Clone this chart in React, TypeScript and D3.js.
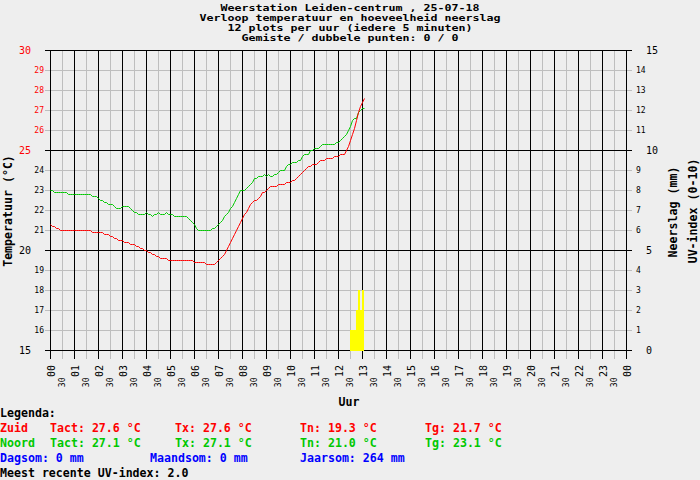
import { useEffect, useRef } from "react";
import * as d3 from "d3";

// 5-minute samples starting at 00:00 (12 per hour)
const zuidTemp = [
  21.3, 21.2, 21.2, 21.1, 21.1, 21.0, 21.0, 21.0, 21.0, 21.0, 21.0, 21.0,
  21.0, 21.0, 21.0, 21.0, 21.0, 21.0, 21.0, 21.0, 21.0, 20.9, 20.9, 20.9,
  20.9, 20.9, 20.9, 20.8, 20.8, 20.8, 20.7, 20.7, 20.6, 20.6, 20.5, 20.5,
  20.5, 20.4, 20.4, 20.4, 20.3, 20.3, 20.3, 20.2, 20.2, 20.1, 20.1, 20.0,
  20.0, 19.9, 19.9, 19.8, 19.8, 19.7, 19.7, 19.6, 19.6, 19.6, 19.6, 19.5,
  19.5, 19.5, 19.5, 19.5, 19.5, 19.5, 19.5, 19.5, 19.5, 19.5, 19.5, 19.5,
  19.4, 19.4, 19.4, 19.4, 19.4, 19.4, 19.3, 19.3, 19.3, 19.3, 19.3, 19.4,
  19.5, 19.6, 19.7, 19.8, 20.0, 20.2, 20.4, 20.6, 20.8, 21.0, 21.2, 21.4,
  21.6, 21.8, 21.9, 22.1, 22.3, 22.4, 22.5, 22.5, 22.6, 22.7, 22.9, 22.9,
  23.0, 23.1, 23.2, 23.2, 23.2, 23.2, 23.3, 23.3, 23.3, 23.3, 23.4, 23.4,
  23.4, 23.5, 23.5, 23.6, 23.7, 23.8, 23.9, 24.0, 24.1, 24.2, 24.2, 24.3,
  24.3, 24.3, 24.4, 24.5, 24.5, 24.5, 24.6, 24.6, 24.6, 24.6, 24.7, 24.7,
  24.7, 24.8, 24.8, 24.8, 25.0, 25.2, 25.5, 25.8, 26.1, 26.5, 26.9, 27.2,
  27.4, 27.6,
];

const noordTemp = [
  23.0, 23.0, 22.9, 22.9, 22.9, 22.9, 22.9, 22.9, 22.9, 22.8, 22.8, 22.8,
  22.8, 22.8, 22.8, 22.8, 22.8, 22.8, 22.8, 22.8, 22.8, 22.7, 22.7, 22.7,
  22.6, 22.5, 22.5, 22.4, 22.4, 22.3, 22.3, 22.3, 22.2, 22.1, 22.1, 22.1,
  22.2, 22.2, 22.2, 22.2, 22.1, 22.0, 21.9, 21.9, 21.8, 21.8, 21.8, 21.8,
  21.9, 21.8, 21.8, 21.7, 21.8, 21.8, 21.9, 21.8, 21.8, 21.8, 21.9, 21.8,
  21.8, 21.8, 21.7, 21.7, 21.7, 21.7, 21.7, 21.7, 21.7, 21.6, 21.5, 21.4,
  21.3, 21.1, 21.0, 21.0, 21.0, 21.0, 21.0, 21.0, 21.0, 21.1, 21.1, 21.2,
  21.3, 21.4, 21.5, 21.7, 21.8, 21.9, 22.1, 22.2, 22.4, 22.6, 22.8, 23.0,
  23.0, 23.0, 23.1, 23.2, 23.3, 23.4, 23.6, 23.6, 23.7, 23.7, 23.7, 23.8,
  23.7, 23.8, 23.7, 23.7, 23.8, 23.8, 23.9, 24.0, 24.0, 24.0, 24.2, 24.3,
  24.3, 24.4, 24.4, 24.4, 24.5, 24.5, 24.7, 24.8, 24.8, 24.8, 25.0, 25.0,
  25.1, 25.1, 25.1, 25.2, 25.3, 25.3, 25.3, 25.3, 25.3, 25.3, 25.3, 25.4,
  25.4, 25.5, 25.6, 25.7, 25.8, 26.0, 26.2, 26.5, 26.6, 26.6, 26.9, 27.0,
  27.1, 27.1,
];

// UV index per 5 minutes, first sample at 12:30
const uvStartSample = 150;
const uvValues = [1, 1, 1, 2, 3, 2, 3];

const hourLabels = [
  "00", "01", "02", "03", "04", "05", "06", "07", "08", "09", "10", "11",
  "12", "13", "14", "15", "16", "17", "18", "19", "20", "21", "22", "23", "00",
];
const halfHourLabel = "30";
const tempTicks = [15, 16, 17, 18, 19, 20, 21, 22, 23, 24, 25, 26, 27, 28, 29, 30];
const rainTicks = [0, 1, 2, 3, 4, 5, 6, 7, 8, 9, 10, 11, 12, 13, 14, 15];

const titleLines = [
  "Weerstation Leiden-centrum , 25-07-18",
  "Verloop temperatuur en hoeveelheid neerslag",
  "12 plots per uur (iedere 5 minuten)",
  "Gemiste / dubbele punten: 0 / 0",
];
const legendZuid = ["Zuid", "Tact: 27.6 °C", "Tx: 27.6 °C", "Tn: 19.3 °C", "Tg: 21.7 °C"];
const legendNoord = ["Noord", "Tact: 27.1 °C", "Tx: 27.1 °C", "Tn: 21.0 °C", "Tg: 23.1 °C"];
const legendRain = ["Dagsom: 0 mm", "Maandsom: 0 mm", "Jaarsom: 264 mm"];
const legendUv = "Meest recente UV-index: 2.0";

const W = 700;
const H = 480;
const FONT = "'DejaVu Sans Mono', monospace";
const RED = "#ff0000";
const GREEN = "#00c800";
const BLUE = "#0000ff";
const GREY = "#bebebe";

export default function App() {
  const svgRef = useRef<SVGSVGElement>(null);

  useEffect(() => {
    if (!svgRef.current) return;
    document.body.style.margin = "0";

    const svg = d3.select(svgRef.current);
    svg.selectAll("*").remove();

    const x = d3.scaleLinear().domain([0, 24]).range([50.5, 626.5]);
    const y = d3.scaleLinear().domain([15, 30]).range([350.5, 50.5]);
    const yR = d3.scaleLinear().domain([0, 15]).range([350.5, 50.5]);
    const xs = (i: number) => x(i / 12);

    svg.append("rect").attr("width", W).attr("height", H).attr("fill", "#eeeeee");

    // title: small font stretched to the 7px-wide bitmap glyphs
    svg
      .append("g")
      .selectAll("text")
      .data(titleLines)
      .enter()
      .append("text")
      .attr("x", 350)
      .attr("y", (_, i) => 10.5 + i * 10.3)
      .attr("text-anchor", "middle")
      .attr("font-family", FONT)
      .attr("font-weight", "bold")
      .attr("font-size", 8.8)
      .attr("textLength", (d) => d.length * 7)
      .attr("lengthAdjust", "spacingAndGlyphs")
      .text((d) => d);

    // grid
    const grid = svg.append("g").attr("shape-rendering", "crispEdges");
    const halfHours = d3.range(0, 24.5, 0.5);
    const yTop = y(30);
    const yBottom = y(15) + 8;
    const addGrid = (major: boolean) => {
      const color = major ? "#000" : GREY;
      grid
        .selectAll(null)
        .data(tempTicks.filter((v) => (v % 5 === 0) === major))
        .enter()
        .append("line")
        .attr("x1", 45)
        .attr("x2", 632)
        .attr("y1", (d) => y(d))
        .attr("y2", (d) => y(d))
        .attr("stroke", color);
      grid
        .selectAll(null)
        .data(halfHours.filter((h) => (h % 1 === 0) === major))
        .enter()
        .append("line")
        .attr("x1", (d) => x(d))
        .attr("x2", (d) => x(d))
        .attr("y1", yTop)
        .attr("y2", yBottom)
        .attr("stroke", color);
    };
    addGrid(false);
    addGrid(true);

    // UV bars
    svg
      .append("g")
      .attr("shape-rendering", "crispEdges")
      .selectAll("rect")
      .data(uvValues)
      .enter()
      .append("rect")
      .attr("x", (_, i) => xs(uvStartSample + i) - 0.5)
      .attr("width", xs(1) - xs(0))
      .attr("y", (d) => yR(d) - 0.5)
      .attr("height", (d) => yR(0) - yR(d) + 1)
      .attr("fill", "#ffff00");

    // temperature lines
    const line = d3
      .line<number>()
      .x((_, i) => xs(i))
      .y((d) => y(d));
    svg
      .append("path")
      .datum(noordTemp)
      .attr("fill", "none")
      .attr("stroke", GREEN)
      .attr("stroke-width", 1)
      .attr("d", line);
    svg
      .append("path")
      .datum(zuidTemp)
      .attr("fill", "none")
      .attr("stroke", RED)
      .attr("stroke-width", 1)
      .attr("d", line);

    // left axis labels
    svg
      .append("g")
      .selectAll("text")
      .data(tempTicks)
      .enter()
      .append("text")
      .attr("x", (d) => (d % 5 === 0 ? 31 : 44))
      .attr("y", (d) => y(d) + (d % 5 === 0 ? 3.6 : 2.9))
      .attr("text-anchor", "end")
      .attr("font-family", FONT)
      .attr("font-size", (d) => (d % 5 === 0 ? 10 : 8))
      .attr("fill", (d) => (d >= 25 ? RED : "#000"))
      .text((d) => d);

    // right axis labels
    svg
      .append("g")
      .selectAll("text")
      .data(rainTicks)
      .enter()
      .append("text")
      .attr("x", (d) => (d % 5 === 0 ? 646 : 636))
      .attr("y", (d) => yR(d) + (d % 5 === 0 ? 3.6 : 2.9))
      .attr("font-family", FONT)
      .attr("font-size", (d) => (d % 5 === 0 ? 10 : 8))
      .text((d) => d);

    // hour labels
    svg
      .append("g")
      .selectAll("text")
      .data(hourLabels)
      .enter()
      .append("text")
      .attr("transform", (_, i) => `translate(${x(i) + 1},365) rotate(-90)`)
      .attr("dy", "0.36em")
      .attr("text-anchor", "end")
      .attr("font-family", FONT)
      .attr("font-size", 10)
      .text((d) => d);
    svg
      .append("g")
      .selectAll("text")
      .data(d3.range(24))
      .enter()
      .append("text")
      .attr("transform", (d) => `translate(${x(d + 0.5)},377.5) rotate(-90)`)
      .attr("dy", "0.36em")
      .attr("text-anchor", "end")
      .attr("font-family", FONT)
      .attr("font-size", 8)
      .text(halfHourLabel);

    // axis titles
    const bold = (sel: d3.Selection<SVGTextElement, unknown, null, undefined>) =>
      sel.attr("font-family", FONT).attr("font-weight", "bold").attr("font-size", 11.6);
    svg
      .append("text")
      .attr("transform", "translate(11.5,211) rotate(-90)")
      .attr("text-anchor", "middle")
      .call(bold)
      .text("Temperatuur (°C)");
    svg
      .append("text")
      .attr("transform", "translate(677,212) rotate(-90)")
      .attr("text-anchor", "middle")
      .call(bold)
      .text("Neerslag (mm)");
    svg
      .append("text")
      .attr("transform", "translate(697,211) rotate(-90)")
      .attr("text-anchor", "middle")
      .call(bold)
      .text("UV-index (0-10)");
    svg
      .append("text")
      .attr("x", 349)
      .attr("y", 406)
      .attr("text-anchor", "middle")
      .call(bold)
      .text("Uur");

    // legend
    const legend = svg.append("g");
    const tempCols = [0, 50, 175, 300, 425];
    const rainCols = [0, 150, 300];
    legend.append("text").attr("x", 0).attr("y", 416.5).call(bold).text("Legenda:");
    legendZuid.forEach((s, i) =>
      legend.append("text").attr("x", tempCols[i]).attr("y", 431.5).attr("fill", RED).call(bold).text(s)
    );
    legendNoord.forEach((s, i) =>
      legend.append("text").attr("x", tempCols[i]).attr("y", 446.5).attr("fill", GREEN).call(bold).text(s)
    );
    legendRain.forEach((s, i) =>
      legend.append("text").attr("x", rainCols[i]).attr("y", 461.5).attr("fill", BLUE).call(bold).text(s)
    );
    legend.append("text").attr("x", 0).attr("y", 476.5).call(bold).text(legendUv);
  }, []);

  return <svg ref={svgRef} width={W} height={H} style={{ display: "block" }}></svg>;
}
